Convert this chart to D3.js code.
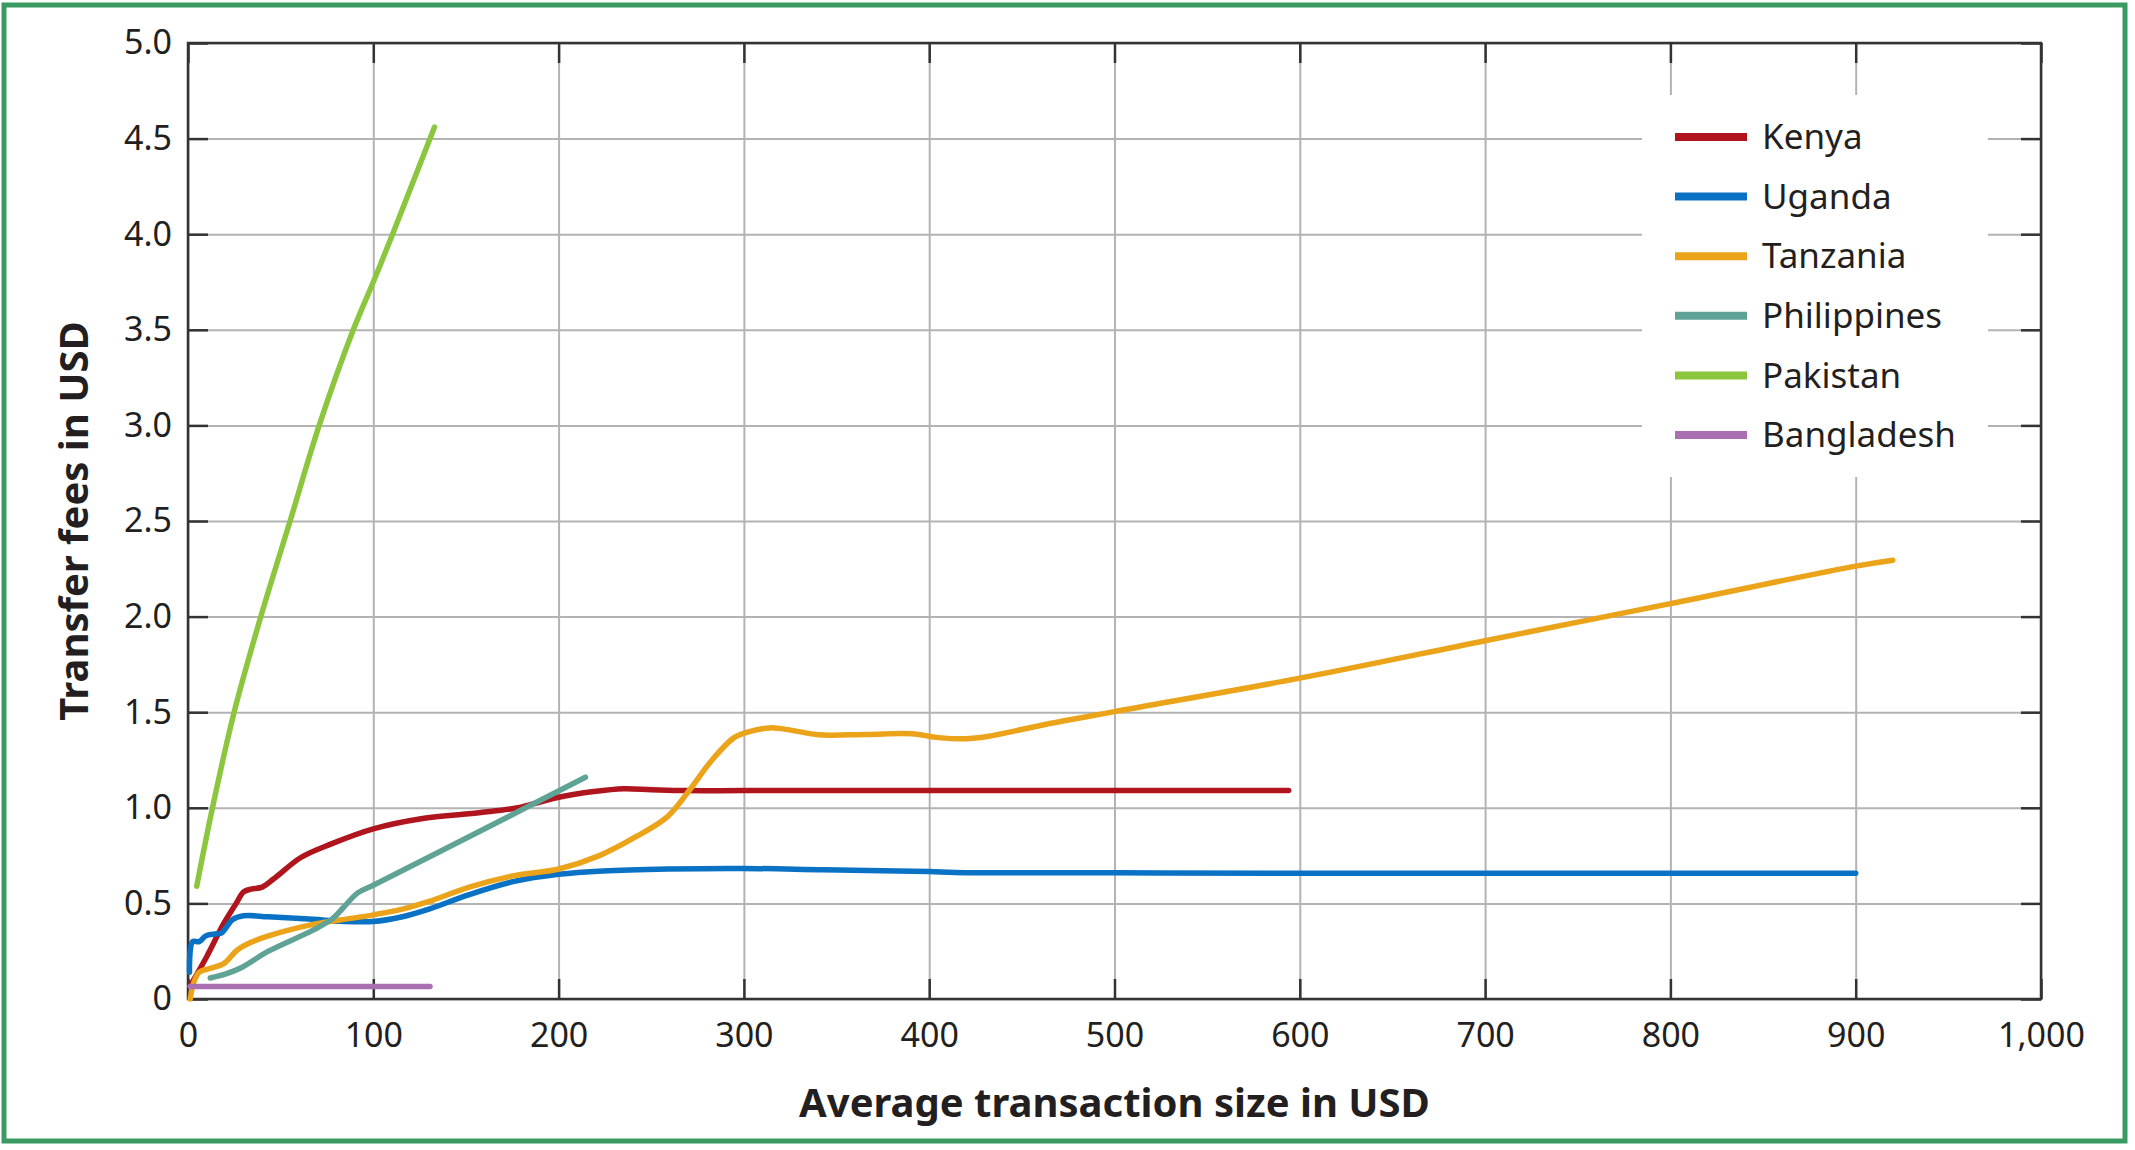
<!DOCTYPE html>
<html>
<head>
<meta charset="utf-8">
<script src="https://cdn.jsdelivr.net/npm/d3@7"></script>
<style>
  body { margin: 0; background: #fff; }
  svg { display: block; font-family: "Noto Sans", sans-serif; }
</style>
</head>
<body>
<svg id="chart"></svg>
<script>
// data: [transaction size USD, fee USD]
var countries = ["Kenya", "Uganda", "Tanzania", "Philippines", "Pakistan", "Bangladesh"];
var colors = ["#b0141c", "#0a72c4", "#eba41a", "#5fa396", "#8cc63f", "#a96fb0"];

var kenya = [[1.2,0.07],[10,0.22],[19,0.39],[26,0.5],[30,0.56],[34,0.575],[40,0.585],[46.5,0.63],
  [60.9,0.74],[77,0.81],[100,0.89],[125.8,0.943],[158,0.975],[178,1.0],[190,1.03],[200,1.055],
  [219,1.085],[235,1.1],[250,1.095],[268,1.09],[300,1.09],[400,1.09],[500,1.09],[594,1.09]];
var uganda = [[0.8,0.14],[2.5,0.3],[6,0.3],[9.6,0.33],[14.5,0.34],[18,0.345],[24,0.415],[30,0.435],
  [43.4,0.43],[67.5,0.417],[82,0.407],[100,0.405],[115.7,0.43],[130,0.47],[151.8,0.546],[176,0.615],
  [200,0.652],[224,0.67],[259,0.68],[300,0.683],[343,0.676],[400,0.667],[414,0.662],[500,0.66],
  [600,0.658],[900,0.658]];
var tanzania = [[1.2,0.0],[2.9,0.08],[6,0.14],[12,0.16],[19.3,0.185],[26.5,0.255],[33.7,0.295],
  [43.4,0.33],[67.5,0.39],[82,0.413],[100,0.44],[115.7,0.47],[130,0.51],[151.8,0.585],[176,0.645],
  [200,0.68],[222,0.75],[242,0.85],[258.8,0.954],[270.7,1.093],[282.7,1.249],[294.7,1.367],
  [300,1.39],[313.9,1.418],[325.9,1.405],[340.3,1.382],[366.7,1.384],[390.6,1.387],[405,1.367],
  [419.4,1.361],[431.4,1.373],[462.6,1.436],[500,1.503],[600,1.678],[700,1.874],[800,2.068],
  [900,2.264],[920,2.295]];
var philippines = [[12,0.11],[20,0.13],[29,0.165],[43.4,0.25],[67.5,0.36],[78,0.42],[84,0.48],
  [91.6,0.555],[100,0.595],[158,0.88],[214.5,1.16]];
var pakistan = [[4.7,0.59],[13.2,1.0],[24.9,1.5],[39.3,2.0],[55.1,2.5],[70.8,3.0],[89.2,3.5],
  [100,3.75],[110.4,4.0],[133,4.56]];
var bangladesh = [[1.2,0.065],[130.6,0.065]];

var xTicks = [0,100,200,300,400,500,600,700,800,900,1000];
var yTicks = [0,0.5,1,1.5,2,2.5,3,3.5,4,4.5,5];

var seriesData = [kenya, uganda, tanzania, philippines, pakistan, bangladesh];

var svgWidth = 2135, svgHeight = 1150;
var margin = { top: 43, right: 94, bottom: 151, left: 188 };
var width = svgWidth - margin.left - margin.right;
var height = svgHeight - margin.top - margin.bottom;

var svg = d3.select("#chart")
  .attr("width", svgWidth)
  .attr("height", svgHeight);

// green outer frame
svg.append("rect")
  .attr("x", 4).attr("y", 5)
  .attr("width", 2121).attr("height", 1136)
  .attr("fill", "none")
  .attr("stroke", "#3a9b62")
  .attr("stroke-width", 5);

var g = svg.append("g")
  .attr("transform", "translate(" + margin.left + "," + margin.top + ")");

var x = d3.scaleLinear().domain([0, 1000]).range([0, width]);
var y = d3.scaleLinear().domain([0, 5]).range([height, 0]);

// grid
g.append("g")
  .attr("transform", "translate(0," + height + ")")
  .call(d3.axisBottom(x).tickValues(xTicks).tickSize(-height).tickFormat(""))
  .call(function (a) { a.select(".domain").remove(); })
  .selectAll("line").attr("stroke", "#b3b3b3").attr("stroke-width", 2);
g.append("g")
  .call(d3.axisLeft(y).tickValues(yTicks).tickSize(-width).tickFormat(""))
  .call(function (a) { a.select(".domain").remove(); })
  .selectAll("line").attr("stroke", "#b3b3b3").attr("stroke-width", 2);

// legend backdrop hides grid
var legendX = 1642 - margin.left, legendY = 95 - margin.top;
g.append("rect")
  .attr("x", legendX).attr("y", legendY)
  .attr("width", 346).attr("height", 382)
  .attr("fill", "#fff");

// inward ticks on all four sides
function styleAxis(a) {
  a.select(".domain").remove();
  a.selectAll("line").attr("stroke", "#333").attr("stroke-width", 2.5);
  a.selectAll("text")
    .attr("fill", "#231f20")
    .style("font-size", "34px")
    .style("font-family", "'Noto Sans', sans-serif");
}
g.append("g")
  .attr("transform", "translate(0," + height + ")")
  .call(d3.axisBottom(x).tickValues(xTicks).tickSize(-20).tickPadding(24).tickFormat(d3.format(",")))
  .call(styleAxis);
g.append("g")
  .call(d3.axisTop(x).tickValues(xTicks).tickSize(-20).tickFormat(""))
  .call(styleAxis);
g.append("g")
  .call(d3.axisLeft(y).tickValues(yTicks).tickSize(-20).tickPadding(16)
    .tickFormat(function (d) { return d === 0 ? "0" : d3.format(".1f")(d); }))
  .call(styleAxis);
g.append("g")
  .attr("transform", "translate(" + width + ",0)")
  .call(d3.axisRight(y).tickValues(yTicks).tickSize(-20).tickFormat(""))
  .call(styleAxis);

// plot frame
g.append("rect")
  .attr("width", width).attr("height", height)
  .attr("fill", "none")
  .attr("stroke", "#333")
  .attr("stroke-width", 2.5);

var line = d3.line()
  .x(function (d) { return x(d[0]); })
  .y(function (d) { return y(d[1]); })
  .curve(d3.curveCatmullRom.alpha(0.5));

seriesData.forEach(function (data, i) {
  g.append("path")
    .datum(data)
    .attr("fill", "none")
    .attr("stroke", colors[i])
    .attr("stroke-width", 5.5)
    .attr("stroke-linejoin", "round")
    .attr("stroke-linecap", "round")
    .attr("d", line);
});

// legend
var legend = g.append("g")
  .attr("transform", "translate(" + (1675 - margin.left) + "," + (137 - margin.top) + ")");
countries.forEach(function (name, i) {
  var row = legend.append("g").attr("transform", "translate(0," + (i * 59.6) + ")");
  row.append("line")
    .attr("x1", 0).attr("x2", 72)
    .attr("stroke", colors[i])
    .attr("stroke-width", 8);
  row.append("text")
    .attr("x", 87)
    .attr("dy", "0.35em")
    .attr("fill", "#231f20")
    .style("font-size", "35px")
    .text(name);
});

// axis titles
svg.append("text")
  .attr("x", margin.left + width / 2)
  .attr("y", 1117)
  .attr("text-anchor", "middle")
  .attr("fill", "#231f20")
  .style("font-size", "40px")
  .style("font-weight", "bold")
  .text("Average transaction size in USD");

svg.append("text")
  .attr("transform", "translate(88," + (margin.top + height / 2) + ") rotate(-90)")
  .attr("text-anchor", "middle")
  .attr("fill", "#231f20")
  .style("font-size", "40px")
  .style("font-weight", "bold")
  .text("Transfer fees in USD");
</script>
</body>
</html>
